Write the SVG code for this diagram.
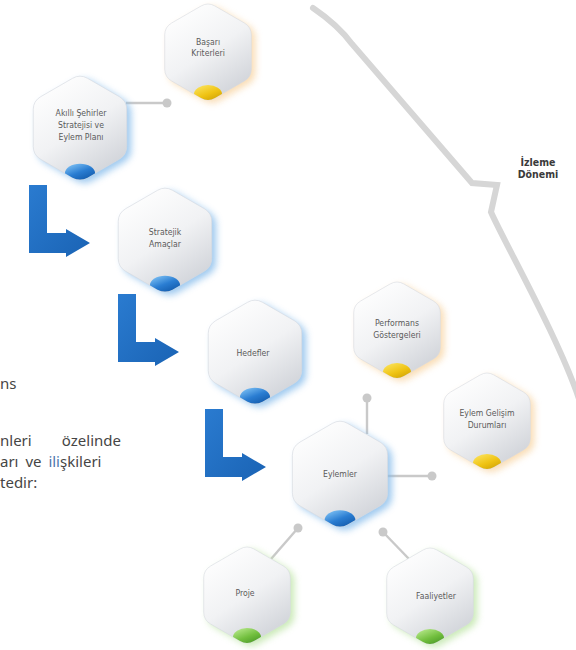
<svg xmlns="http://www.w3.org/2000/svg" width="576" height="650" viewBox="0 0 576 650">
<defs>
<style>
.face{fill:url(#face);stroke:#d7dae0;stroke-width:0.6}
.gB{fill:#7fb8ea;opacity:.75;filter:url(#blur)}
.gY{fill:#f7cf96;opacity:.7;filter:url(#blur)}
.gG{fill:#b9e3a0;opacity:.75;filter:url(#blur)}
.lbl{font-family:"DejaVu Sans Condensed","DejaVu Sans",sans-serif;font-stretch:condensed;font-size:8.6px;fill:#5a5a5a;text-anchor:middle}
.con{stroke:#c9c9c9;stroke-width:2.4;fill:none}
.dot{fill:#c9c9c9}
.arr{fill:url(#arrG)}
.body{font-family:"Noto Sans","Open Sans",sans-serif;font-size:15px;fill:#454545}
</style>
<path id="hex" d="M6.93,-46 L36.37,-29 Q43.3,-25 43.3,-17 L43.3,17 Q43.3,25 36.37,29 L6.93,46 Q0,50 -6.93,46 L-36.37,29 Q-43.3,25 -43.3,17 L-43.3,-17 Q-43.3,-25 -36.37,-29 L-6.93,-46 Q0,-50 6.93,-46 Z"/>
<clipPath id="hc"><use href="#hex"/></clipPath>
<linearGradient id="face" x1="0.2" y1="0" x2="0.8" y2="1">
<stop offset="0" stop-color="#ffffff"/>
<stop offset="0.5" stop-color="#f1f2f4"/>
<stop offset="1" stop-color="#cdd0d6"/>
</linearGradient>
<linearGradient id="capB" x1="0.2" y1="0" x2="0.8" y2="1">
<stop offset="0" stop-color="#7cc0f4"/>
<stop offset="0.45" stop-color="#2a7dd2"/>
<stop offset="1" stop-color="#0b4f9e"/>
</linearGradient>
<linearGradient id="capY" x1="0.2" y1="0" x2="0.8" y2="1">
<stop offset="0" stop-color="#fbe25a"/>
<stop offset="0.5" stop-color="#efc313"/>
<stop offset="1" stop-color="#c99a00"/>
</linearGradient>
<linearGradient id="capG" x1="0.2" y1="0" x2="0.8" y2="1">
<stop offset="0" stop-color="#b6e88a"/>
<stop offset="0.5" stop-color="#72bf3e"/>
<stop offset="1" stop-color="#3f8f22"/>
</linearGradient>
<linearGradient id="arrG" x1="0" y1="0" x2="1" y2="1">
<stop offset="0" stop-color="#2a7bd0"/>
<stop offset="1" stop-color="#1a63b4"/>
</linearGradient>
<filter id="blur" x="-40%" y="-40%" width="180%" height="180%"><feGaussianBlur stdDeviation="3.5"/></filter>
<path id="L" d="M0,0 H18 V48 H37 V44 L61,58 L37,72 V68 H0 Z"/>
</defs>

<path d="M313,8 Q338,25 352,44 L472,183 L497,185 L491,212 C502,238 560,340 580,402" fill="none" stroke="#d6d6d6" stroke-width="6" stroke-linejoin="miter" stroke-linecap="round"/>
<g id="izleme" font-family="'DejaVu Sans Condensed','DejaVu Sans',sans-serif" font-stretch="condensed" font-weight="bold" font-size="10.5" fill="#3a3a3a" text-anchor="middle">
<text x="538" y="166">İzleme</text>
<text x="538" y="178">Dönemi</text>
</g>

<g id="connectors">
<line class="con" x1="126" y1="103" x2="167" y2="103"/>
<circle class="dot" cx="167" cy="103" r="4.5"/>
<line class="con" x1="367" y1="398" x2="367" y2="434"/>
<circle class="dot" cx="367" cy="398" r="4.5"/>
<line class="con" x1="386" y1="476" x2="432" y2="476"/>
<circle class="dot" cx="432" cy="476" r="4.5"/>
<line class="con" x1="298" y1="528" x2="271" y2="559"/>
<circle class="dot" cx="298" cy="528" r="4.5"/>
<line class="con" x1="383" y1="532" x2="409" y2="559"/>
<circle class="dot" cx="383" cy="532" r="4.5"/>
</g>

<g id="arrows">
<use href="#L" class="arr" transform="translate(29,185)"/>
<use href="#L" class="arr" transform="translate(118,294)"/>
<use href="#L" class="arr" transform="translate(205,409)"/>
</g>

<g id="n-basari">
<g transform="translate(208,52)">
<use href="#hex" class="gY" transform="translate(4,3)"/>
<use href="#hex" class="face"/>
<ellipse cx="0" cy="42" rx="14" ry="9" fill="url(#capY)" clip-path="url(#hc)"/>
</g>
<text class="lbl" x="208" y="45">Başarı</text>
<text class="lbl" x="208" y="56">Kriterleri</text>
</g>

<g id="n-akilli">
<g transform="translate(80,128) scale(1.08)">
<use href="#hex" class="gB" transform="translate(4,3)"/>
<use href="#hex" class="face"/>
<ellipse cx="0" cy="42" rx="14" ry="9" fill="url(#capB)" clip-path="url(#hc)"/>
</g>
<text class="lbl" x="81" y="116">Akıllı Şehirler</text>
<text class="lbl" x="81" y="128">Stratejisi ve</text>
<text class="lbl" x="81" y="140">Eylem Planı</text>
</g>

<g id="n-stratejik">
<g transform="translate(165,240) scale(1.08)">
<use href="#hex" class="gB" transform="translate(4,3)"/>
<use href="#hex" class="face"/>
<ellipse cx="0" cy="42" rx="14" ry="9" fill="url(#capB)" clip-path="url(#hc)"/>
</g>
<text class="lbl" x="165" y="235">Stratejik</text>
<text class="lbl" x="165" y="247">Amaçlar</text>
</g>

<g id="n-hedefler">
<g transform="translate(255,352) scale(1.08)">
<use href="#hex" class="gB" transform="translate(4,3)"/>
<use href="#hex" class="face"/>
<ellipse cx="0" cy="42" rx="14" ry="9" fill="url(#capB)" clip-path="url(#hc)"/>
</g>
<text class="lbl" x="253" y="356">Hedefler</text>
</g>

<g id="n-performans">
<g transform="translate(397,330)">
<use href="#hex" class="gY" transform="translate(4,3)"/>
<use href="#hex" class="face"/>
<ellipse cx="0" cy="42" rx="14" ry="9" fill="url(#capY)" clip-path="url(#hc)"/>
</g>
<text class="lbl" x="397" y="326">Performans</text>
<text class="lbl" x="397" y="338">Göstergeleri</text>
</g>

<g id="n-gelisim">
<g transform="translate(487,421)">
<use href="#hex" class="gY" transform="translate(4,3)"/>
<use href="#hex" class="face"/>
<ellipse cx="0" cy="42" rx="14" ry="9" fill="url(#capY)" clip-path="url(#hc)"/>
</g>
<text class="lbl" x="487" y="416">Eylem Gelişim</text>
<text class="lbl" x="487" y="428">Durumları</text>
</g>

<g id="n-eylemler">
<g transform="translate(340,474) scale(1.1)">
<use href="#hex" class="gB" transform="translate(4,3)"/>
<use href="#hex" class="face"/>
<ellipse cx="0" cy="42" rx="14" ry="9" fill="url(#capB)" clip-path="url(#hc)"/>
</g>
<text class="lbl" x="340" y="477">Eylemler</text>
</g>

<g id="n-proje">
<g transform="translate(247,595)">
<use href="#hex" class="gG" transform="translate(4,3)"/>
<use href="#hex" class="face"/>
<ellipse cx="0" cy="42" rx="14" ry="9" fill="url(#capG)" clip-path="url(#hc)"/>
</g>
<text class="lbl" x="245" y="596">Proje</text>
</g>

<g id="n-faaliyetler">
<g transform="translate(430,596)">
<use href="#hex" class="gG" transform="translate(4,3)"/>
<use href="#hex" class="face"/>
<ellipse cx="0" cy="42" rx="14" ry="9" fill="url(#capG)" clip-path="url(#hc)"/>
</g>
<text class="lbl" x="436" y="599">Faaliyetler</text>
</g>

<g id="bodytext">
<text class="body" x="0" y="389">ns</text>
<text class="body" x="0" y="446">nleri</text>
<text class="body" x="121" y="446" text-anchor="end">özelinde</text>
<text class="body" x="0" y="467" word-spacing="3">arı ve <tspan fill="#4a76ad">ili</tspan>şkileri</text>
<text class="body" x="0" y="488">tedir:</text>
</g>
</svg>
